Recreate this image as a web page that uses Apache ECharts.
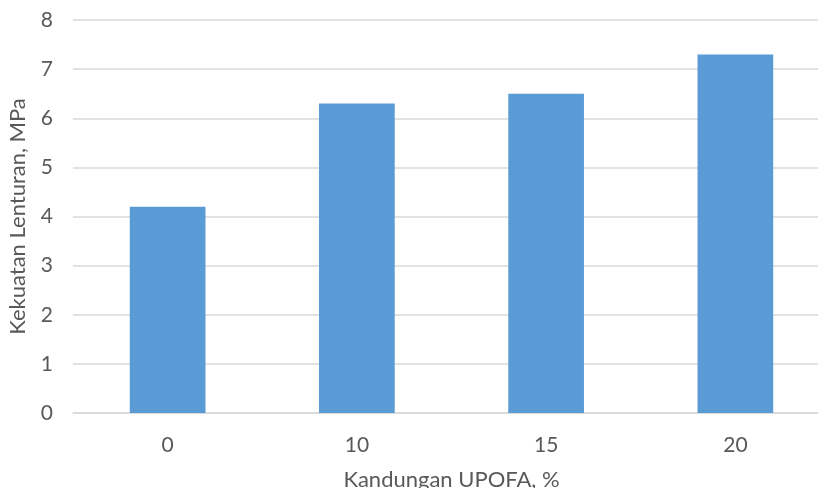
<!DOCTYPE html>
<html>
<head>
<meta charset="utf-8">
<script src="https://cdn.jsdelivr.net/npm/echarts@6/dist/echarts.min.js"></script>
<style>
    html, body { margin: 0; padding: 0; background: #fff; }
    #main { width: 818px; height: 488px; }
</style>
</head>
<body>
<div id="main"></div>
<script>
    // data
    var categories = ['0', '10', '15', '20'];
    var strength = [4.2, 6.3, 6.5, 7.3];
    var yTicks = [0, 8, 1];   // min, max, interval

    var fontFam = 'Lato, "Open Sans", sans-serif';
    var textColor = '#595959';

    var myChart = echarts.init(document.getElementById('main'));
    var option = {
        animation: false,
        grid: {
            left: 73,
            right: -12,
            top: 20,
            bottom: 75,
            outerBoundsMode: 'none'
        },
        xAxis: {
            type: 'category',
            data: categories,
            name: 'Kandungan UPOFA, %',
            nameLocation: 'middle',
            nameGap: 56,
            nameTextStyle: { color: textColor, fontSize: 22, fontFamily: fontFam },
            axisLine: { show: true, lineStyle: { color: '#d9d9d9', width: 1.5 } },
            axisTick: { show: false },
            axisLabel: { color: textColor, fontSize: 21, fontFamily: fontFam, margin: 22 }
        },
        yAxis: {
            type: 'value',
            min: yTicks[0],
            max: yTicks[1],
            interval: yTicks[2],
            name: 'Kekuatan Lenturan, MPa',
            nameLocation: 'middle',
            nameGap: 44,
            nameTextStyle: { color: textColor, fontSize: 22, fontFamily: fontFam },
            axisLine: { show: false },
            axisTick: { show: false },
            axisLabel: { color: textColor, fontSize: 21, fontFamily: fontFam, margin: 20 },
            splitLine: { lineStyle: { color: '#d9d9d9', width: 1.5 } }
        },
        series: [
            {
                type: 'bar',
                data: strength,
                barWidth: '40%',
                itemStyle: { color: '#5b9bd5' }
            }
        ]
    };
    option && myChart.setOption(option);
</script>
</body>
</html>
